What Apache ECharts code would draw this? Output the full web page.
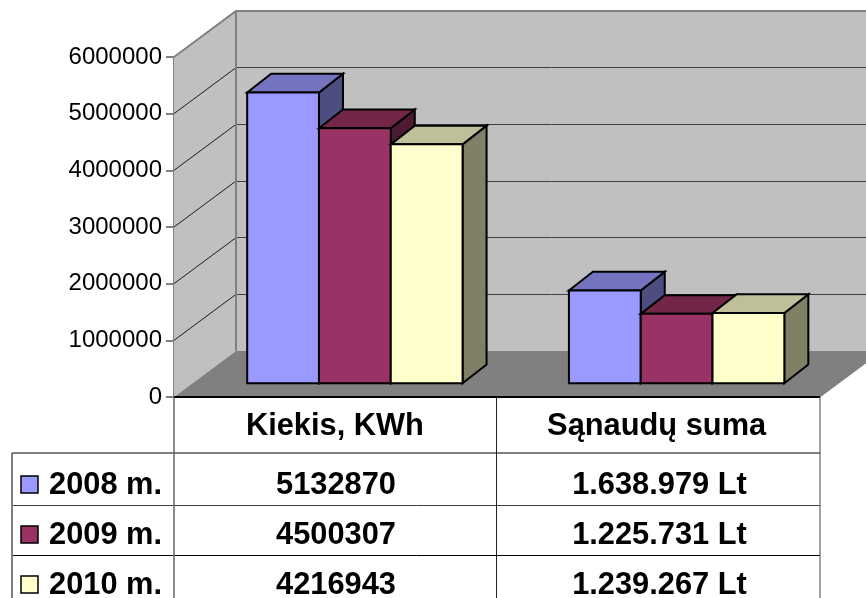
<!DOCTYPE html>
<html>
<head>
<meta charset="utf-8">
<style>html,body{margin:0;padding:0;background:#fff;overflow:hidden}#c{width:866px;height:598px}</style>
<script src="https://cdn.jsdelivr.net/npm/echarts@6/dist/echarts.min.js"></script>
</head>
<body>
<div id="c"></div>
<script>
const categories = ['Kiekis, KWh', 'Sąnaudų suma'];
const years = ['2008 m.', '2009 m.', '2010 m.'];
const values2008 = [5132870, 1638979];
const values2009 = [4500307, 1225731];
const values2010 = [4216943, 1239267];
const sumLabels = ['1.638.979 Lt', '1.225.731 Lt', '1.239.267 Lt'];
const yTicks = [0, 1000000, 2000000, 3000000, 4000000, 5000000, 6000000];
const faceColors = ['#9999FF', '#993366', '#FFFFCC'];
const topColors = ['#7373BF', '#732647', '#BFBF99'];
const sideColors = ['#4D4D80', '#4D1A33', '#808066'];

const FONT = '"Liberation Sans", Arial, sans-serif';
const DEPTH = [62, -46];
const FRONT = [20, -13.7];
const BAR_DEPTH = [24, -18.7];
const BAR_W = 71.8;
const RIGHT_EDGE = 820;

function wallRender(params, api) {
  const o = api.coord([0, 0]);
  const x0 = 174, y0 = o[1];
  const yTop = api.coord([0, yTicks[yTicks.length - 1]])[1];
  const bx = x0 + DEPTH[0], dy = DEPTH[1], rx = RIGHT_EDGE + DEPTH[0];
  const children = [
    {type: 'polygon', shape: {points: [[bx, yTop + dy], [rx, yTop + dy], [rx, y0 + dy], [bx, y0 + dy]]}, style: {fill: '#C0C0C0', stroke: null}},
    {type: 'polygon', shape: {points: [[x0, yTop], [bx, yTop + dy], [bx, y0 + dy], [x0, y0]]}, style: {fill: '#C0C0C0', stroke: null}},
    {type: 'polygon', shape: {points: [[x0, y0], [bx, y0 + dy], [rx, y0 + dy], [RIGHT_EDGE, y0]]}, style: {fill: '#808080', stroke: null}}
  ];
  yTicks.slice(1, -1).forEach(t => {
    const y = api.coord([0, t])[1];
    children.push({type: 'polyline', shape: {points: [[x0, y], [bx, y + dy]]}, style: {fill: null, stroke: '#1a1a1a', lineWidth: 1}});
    children.push({type: 'line', shape: {x1: bx, y1: Math.floor(y + dy) + 0.5, x2: rx, y2: Math.floor(y + dy) + 0.5}, style: {stroke: '#404040', lineWidth: 1}});
  });
  children.push({type: 'polyline', shape: {points: [[x0, yTop], [bx, yTop + dy], [rx, yTop + dy]]}, style: {fill: null, stroke: '#808080', lineWidth: 2}});
  children.push({type: 'line', shape: {x1: bx, y1: yTop + dy, x2: bx, y2: y0 + dy}, style: {stroke: '#808080', lineWidth: 2}});
  children.push({type: 'line', shape: {x1: RIGHT_EDGE, y1: y0, x2: rx, y2: y0 + dy}, style: {stroke: '#808080', lineWidth: 1}});
  return {type: 'group', children};
}

function barRender(idx) {
  return function (params, api) {
    const cat = api.value(0), val = api.value(1);
    const cx = api.coord([cat, 0])[0] + FRONT[0];
    const l = cx - 1.5 * BAR_W + idx * BAR_W, r = l + BAR_W;
    const b = api.coord([cat, 0])[1] + FRONT[1];
    const t = api.coord([cat, val])[1] + FRONT[1];
    const ddx = BAR_DEPTH[0], ddy = BAR_DEPTH[1];
    const line = {stroke: '#000', lineWidth: 2, lineJoin: 'miter'};
    return {type: 'group', children: [
      {type: 'polygon', shape: {points: [[r, t], [r + ddx, t + ddy], [r + ddx, b + ddy], [r, b]]}, style: Object.assign({fill: sideColors[idx]}, line)},
      {type: 'polygon', shape: {points: [[l, t], [l + ddx, t + ddy], [r + ddx, t + ddy], [r, t]]}, style: Object.assign({fill: topColors[idx]}, line)},
      {type: 'rect', shape: {x: l, y: t, width: BAR_W, height: b - t}, style: Object.assign({fill: faceColors[idx]}, line)}
    ]};
  };
}

function barSeries(name, vals, idx) {
  return {
    type: 'custom', name, z: 3 + idx, clip: false,
    coordinateSystem: 'cartesian2d',
    renderItem: barRender(idx),
    encode: {x: 0, y: 1},
    data: vals.map((v, i) => [i, v])
  };
}

function hLine(x1, x2, y, color, w) {
  return {type: 'line', z: 10, shape: {x1, y1: y, x2, y2: y}, style: {stroke: color, lineWidth: w}};
}
function vLine(x, y1, y2, color, w) {
  return {type: 'line', z: 10, shape: {x1: x, y1, x2: x, y2}, style: {stroke: color, lineWidth: w}};
}
function cellText(text, x, y, align) {
  return {type: 'text', z: 11, x, y, style: {text, x: 0, y: 0, font: 'bold 30.8px ' + FONT, fill: '#000', align, verticalAlign: 'middle'}};
}

const rowYs = [486, 536, 586];
const keyYs = [476, 526, 576];
const kwhLabels = [values2008[0], values2009[0], values2010[0]].map(String);
const graphics = [
  hLine(174, 820, 397, '#000', 2),
  hLine(12, 820, 453, '#808080', 2),
  hLine(13, 820, 505.5, '#404040', 1),
  hLine(13, 820, 555.5, '#000', 1),
  vLine(12, 453, 598, '#555', 1.5),
  vLine(174, 397, 598, '#666', 1.5),
  vLine(496.5, 397, 598, '#222', 1),
  vLine(820, 397, 598, '#444', 1)
];
years.forEach((y, i) => {
  graphics.push({type: 'rect', z: 11, shape: {x: 21, y: keyYs[i], width: 17, height: 17},
    style: {fill: faceColors[i], stroke: '#000', lineWidth: 1.5}});
  graphics.push(cellText(y, 49, rowYs[i], 'left'));
  graphics.push(cellText(kwhLabels[i], 336, rowYs[i], 'center'));
  graphics.push(cellText(sumLabels[i], 659.5, rowYs[i], 'center'));
});

const chart = echarts.init(document.getElementById('c'), null, {renderer: 'canvas'});
chart.setOption({
  animation: false,
  backgroundColor: '#fff',
  grid: {left: 174, top: 57, width: 643.5, height: 340},
  xAxis: {
    type: 'category', data: categories,
    axisLine: {show: false}, axisTick: {show: false}, splitLine: {show: false},
    axisLabel: {interval: 0, margin: 14, color: '#000', fontFamily: FONT, fontWeight: 'bold', fontSize: 30.8}
  },
  yAxis: {
    type: 'value', min: 0, max: 6000000, interval: 1000000,
    axisLine: {show: true, lineStyle: {color: '#808080', width: 2}},
    axisTick: {show: true, length: 8, lineStyle: {color: '#808080', width: 2}},
    splitLine: {show: false},
    axisLabel: {margin: 12, color: '#000', fontFamily: FONT, fontSize: 24, padding: [2, 0, 0, 0], formatter: v => String(v)}
  },
  graphic: {elements: graphics},
  series: [
    {type: 'custom', z: 1, clip: false, coordinateSystem: 'cartesian2d', renderItem: wallRender, encode: {x: 0, y: 1}, data: [[0, 0]], silent: true},
    barSeries(years[0], values2008, 0),
    barSeries(years[1], values2009, 1),
    barSeries(years[2], values2010, 2)
  ]
});
</script>
</body>
</html>
